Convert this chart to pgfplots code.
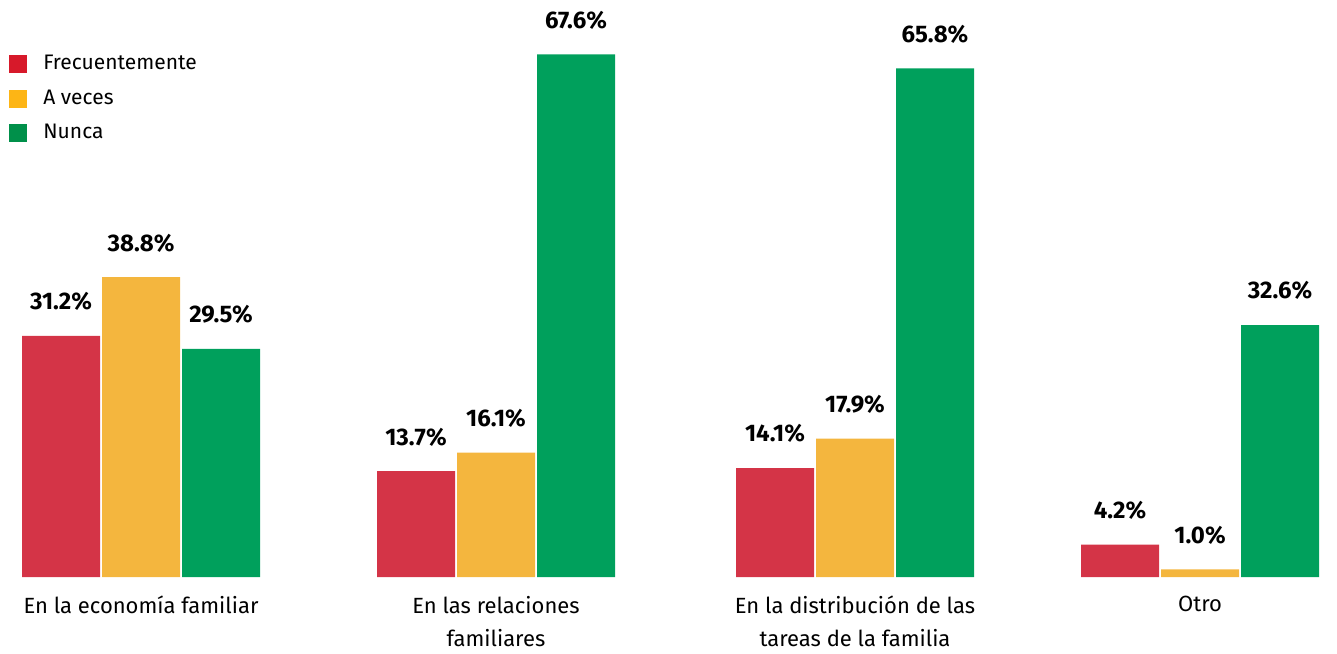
\documentclass[border=0pt]{standalone}
\usepackage{pgfplots}
\pgfplotsset{compat=1.18}
\usepackage{fontspec}
\setmainfont{Fira Sans}
\definecolor{cred}{HTML}{D43447}
\definecolor{cyel}{HTML}{F4B63E}
\definecolor{cgrn}{HTML}{00A05C}
\definecolor{lred}{HTML}{D7192A}
\definecolor{lyel}{HTML}{FDB515}
\definecolor{lgrn}{HTML}{00904A}
\begin{document}
\begin{tikzpicture}
\useasboundingbox (-6.5pt,-38pt) rectangle (662pt,288.5pt);
\begin{axis}[
  scale only axis, width=662pt, height=286pt,
  at={(0pt,0pt)}, anchor=south west,
  xmin=13, xmax=1337, ymin=0, ymax=74,
  ybar=1pt, bar width=39pt,
  hide y axis,
  axis x line*=bottom,
  x axis line style={draw=none},
  major tick length=0pt,
  xtick={141,496,855,1200},
  xticklabels={En la economía familiar, En las relaciones\\familiares, En la distribución de las\\tareas de la familia, Otro},
  xticklabel style={align=center, font=\fontsize{11}{16.5}\selectfont, yshift=-6pt},
  /pgf/number format/assume math mode=true,
  nodes near coords={\pgfmathprintnumber[fixed,precision=1,fixed zerofill]{\pgfplotspointmeta}\%},
  every node near coord/.append style={font=\bfseries\fontsize{12}{14}\selectfont, yshift=9pt},
  legend style={at={(rel axis cs:0,1)}, anchor=north west, draw=none, fill=none, inner sep=0pt,
    xshift=-2pt, yshift=-23pt, font=\fontsize{10.5}{13}\selectfont, row sep=4.5pt,
    /tikz/every odd column/.append style={column sep=6pt}},
  legend cell align=left,
  clip=false,
]
\addplot[fill=cred, draw=none, legend image code/.code={\fill[lred] (0pt,-4.5pt) rectangle (9pt,4.5pt);}] coordinates {(141,31.2) (496,13.7) (855,14.1) (1200,4.2)};
\addplot[fill=cyel, draw=none, legend image code/.code={\fill[lyel] (0pt,-4.5pt) rectangle (9pt,4.5pt);}] coordinates {(141,38.8) (496,16.1) (855,17.9) (1200,1.0)};
\addplot[fill=cgrn, draw=none, legend image code/.code={\fill[lgrn] (0pt,-4.5pt) rectangle (9pt,4.5pt);}] coordinates {(141,29.5) (496,67.6) (855,65.8) (1200,32.6)};
\legend{Frecuentemente, A veces, Nunca}
\end{axis}
\end{tikzpicture}
\end{document}
